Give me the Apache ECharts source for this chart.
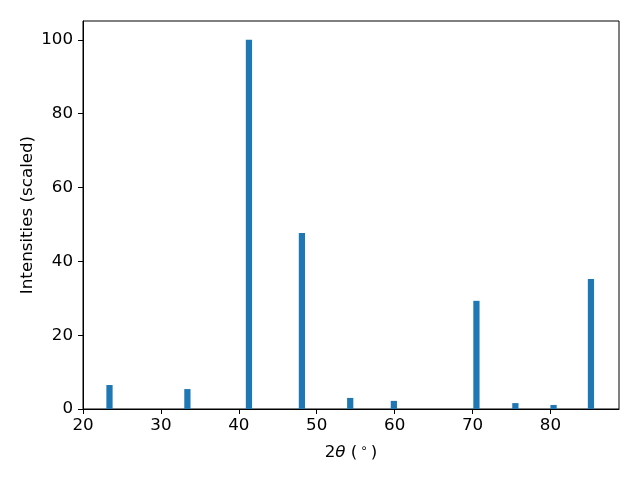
<!DOCTYPE html>
<html><head><meta charset="utf-8">
<script src="https://cdn.jsdelivr.net/npm/echarts@6/dist/echarts.min.js"></script>
<style>html,body{margin:0;padding:0;background:#fff}#c{width:640px;height:480px}</style>
</head><body><div id="c"></div>
<script>
const twoTheta = [23.4, 33.4, 41.3, 48.1, 54.3, 59.9, 70.5, 75.5, 80.4, 85.2];
const intensity = [6.5, 5.4, 100, 47.7, 3.0, 2.2, 29.3, 1.6, 1.1, 35.2];
const xTicks = [20, 30, 40, 50, 60, 70, 80];
const yTicks = [0, 20, 40, 60, 80, 100];
const barW = 0.8;

const chart = echarts.init(document.getElementById('c'), null, {renderer: 'canvas'});
const font = 'DejaVu Sans';
const fs = 16.7;
chart.setOption({
  animation: false,
  grid: {left: 83, right: 21, top: 21, bottom: 71, show: true, borderColor: '#000', borderWidth: 1, backgroundColor: 'transparent'},
  xAxis: {
    type: 'value', min: 20, max: 88.8, interval: 10,
    name: '{n|2}{i|θ}{n| (}{s|∘}{n|)}', nameLocation: 'middle', nameGap: 34, nameMoveOverlap: false,
    nameTextStyle: {rich: {
      n: {fontFamily: font, fontSize: fs, color: '#000'},
      i: {fontFamily: font, fontSize: fs, fontStyle: 'italic', color: '#000'},
      s: {fontFamily: font, fontSize: 12, color: '#000', verticalAlign: 'top', padding: [0, 3, 8, 3]}
    }},
    axisLine: {show: true, lineStyle: {color: '#000', width: 1}},
    axisTick: {show: true, length: 5, inside: false, lineStyle: {color: '#000'}},
    axisLabel: {fontFamily: font, fontSize: fs, color: '#000', margin: 8, showMaxLabel: false,
      formatter: v => xTicks.includes(v) ? String(v) : ''},
    splitLine: {show: false}
  },
  yAxis: {
    type: 'value', min: 0, max: 105.1, interval: 20,
    name: 'Intensities (scaled)', nameLocation: 'middle', nameGap: 47, nameMoveOverlap: false,
    nameTextStyle: {fontFamily: font, fontSize: fs, color: '#000'},
    axisLine: {show: true, lineStyle: {color: '#000', width: 1}},
    axisTick: {show: true, length: 5, inside: false, lineStyle: {color: '#000'}},
    axisLabel: {fontFamily: font, fontSize: fs, color: '#000', margin: 10, showMaxLabel: false,
      formatter: v => yTicks.includes(v) ? String(v) : ''},
    splitLine: {show: false}
  },
  series: [{
    type: 'custom',
    data: twoTheta.map((x, i) => [x, intensity[i]]),
    renderItem: function (params, api) {
      const x = api.value(0), y = api.value(1);
      const p0 = api.coord([x - barW / 2, y]);
      const p1 = api.coord([x + barW / 2, 0]);
      return {type: 'rect', shape: {x: p0[0], y: p0[1], width: p1[0] - p0[0], height: p1[1] - p0[1]},
        style: {fill: '#1f77b4'}};
    }
  }]
});
</script></body></html>
